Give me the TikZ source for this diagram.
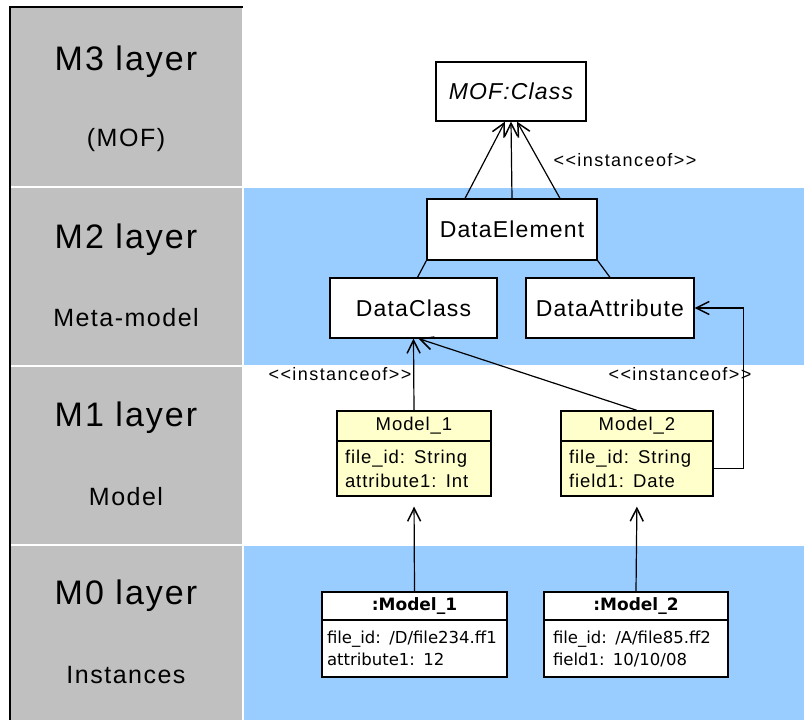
\documentclass[tikz,border=0pt]{standalone}
\usepackage{fontspec}
\setmainfont{Liberation Sans}
\newfontfamily\layerfont[LetterSpace=6]{Liberation Sans}
\newfontfamily\umlfont[LetterSpace=5]{Liberation Sans}
\newfontfamily\stereofont[LetterSpace=8]{Liberation Sans}
\newfontfamily\objfont{DejaVu Sans}
\usepackage{tikz}
\usetikzlibrary{arrows.meta,positioning}
\definecolor{layergray}{HTML}{C0C0C0}
\definecolor{bandblue}{HTML}{99CCFF}
\definecolor{umlyellow}{HTML}{FFFFCC}

\begin{document}
\begin{tikzpicture}[x=1pt,y=-1pt,
        layer/.style={font=\layerfont\fontsize{34}{38}\selectfont},
        layersub/.style={font=\layerfont\fontsize{25}{28}\selectfont},
        metaclass/.style={draw,fill=white,line width=1.2pt,inner sep=0pt,
            font=\umlfont\fontsize{23}{26}\selectfont},
        clshead/.style={draw,fill=umlyellow,line width=1.2pt,inner sep=0pt,
            minimum height=30pt,font=\umlfont\fontsize{18.5}{21}\selectfont},
        clsbody/.style={draw,fill=umlyellow,line width=1.2pt,inner xsep=8pt,inner ysep=0pt,
            minimum height=55pt,align=left,font=\umlfont\fontsize{18.5}{24}\selectfont},
        objhead/.style={draw,fill=white,line width=1.2pt,inner sep=0pt,
            minimum height=28pt,font=\objfont\bfseries\fontsize{17}{20}\selectfont},
        objbody/.style={draw,fill=white,line width=1.2pt,inner xsep=5pt,inner ysep=0pt,
            minimum height=57pt,align=left,font=\objfont\fontsize{16.5}{22}\selectfont},
        stereo/.style={font=\stereofont\fontsize{18}{20}\selectfont},
        inst/.style={line width=1.2pt,-{Straight Barb[length=13pt,width=13pt,line width=1.5pt]}},
        gen/.style={line width=1.2pt}]
                \useasboundingbox (0,0) rectangle (804,720);

                % layer column and bands
                \fill[layergray] (10,7) rectangle (242,186);
                \fill[layergray] (10,188) rectangle (242,365);
                \fill[layergray] (10,367) rectangle (242,544);
                \fill[layergray] (10,546) rectangle (242,720);
                \fill[bandblue] (244,188) rectangle (804,365);
                \fill[bandblue] (244,546) rectangle (804,720);
                \draw[line width=1.5pt] (10,720) -- (10,7) -- (243,7);

                \node[layer] (L3) at (126,62) {M3 layer};
                \node[layersub] (L3s) at (126,140) {(MOF)};
                \node[layer] (L2) at (126,240) {M2 layer};
                \node[layersub] (L2s) at (126,318) {Meta-model};
                \node[layer] (L1) at (126,418) {M1 layer};
                \node[layersub] (L1s) at (126,497) {Model};
                \node[layer] (L0) at (126,596) {M0 layer};
                \node[layersub] (L0s) at (126,675) {Instances};

                % M3 and M2
                \node[metaclass,minimum width=150pt,minimum height=59pt] (MOF) at (511,91.5) {\itshape MOF:Class};
                \node[metaclass,minimum width=170pt,minimum height=61pt] (DE) at (512,229.5) {DataElement};
                \node[metaclass,minimum width=167pt,minimum height=60pt] (DC) at (413.5,308) {DataClass};
                \node[metaclass,minimum width=168pt,minimum height=60pt] (DA) at (610,308) {DataAttribute};

                % M1
                \node[clshead,minimum width=154pt] (M1h) at (414,426) {Model\_1};
                \node[clsbody,text width=138pt,below=-1.2pt of M1h] (M1b) {file\_id: String\\attribute1: Int};
                \node[clshead,minimum width=152pt] (M2h) at (637,426) {Model\_2};
                \node[clsbody,text width=136pt,below=-1.2pt of M2h] (M2b) {file\_id: String\\field1: Date};

                % M0
                \node[objhead,minimum width=185pt] (I1h) at (414.5,606) {:Model\_1};
                \node[objbody,text width=175pt,below=-1.2pt of I1h] (I1b) {file\_id: /D/file234.ff1\\attribute1: 12};
                \node[objhead,minimum width=184pt] (I2h) at (636,606) {:Model\_2};
                \node[objbody,text width=166pt,inner xsep=9pt,below=-1.2pt of I2h] (I2b) {file\_id: /A/file85.ff2\\field1: 10/10/08};

                \node[stereo] (S3) at (625,160) {<<instanceof>>};
                \node[stereo] (S2) at (340,374) {<<instanceof>>};
                \node[stereo] (S1) at (680,374) {<<instanceof>>};

                \draw[inst] ([xshift=-47pt]DE.north) -- ([xshift=-6pt]MOF.south);
                \draw[inst] (DE.north) -- (MOF.south);
                \draw[inst] ([xshift=48pt]DE.north) -- ([xshift=6pt]MOF.south);
                \draw[gen] (DE.south west) -- ([xshift=4pt]DC.north);
                \draw[gen] (DE.south east) -- (DA.north);

                \draw[inst] (M1h.north) -- (DC.south);
                \draw[inst] (M2h.north) -- ([xshift=5pt]DC.south);
                \draw[inst] (M2b.east) -- ++(30,0) |- (DA.east);

                \draw[inst,shorten >=10pt] (I1h.north) -- (M1b.south);
                \draw[inst,shorten >=10pt] (I2h.north) -- (M2b.south);
            \end{tikzpicture}
\end{document}
